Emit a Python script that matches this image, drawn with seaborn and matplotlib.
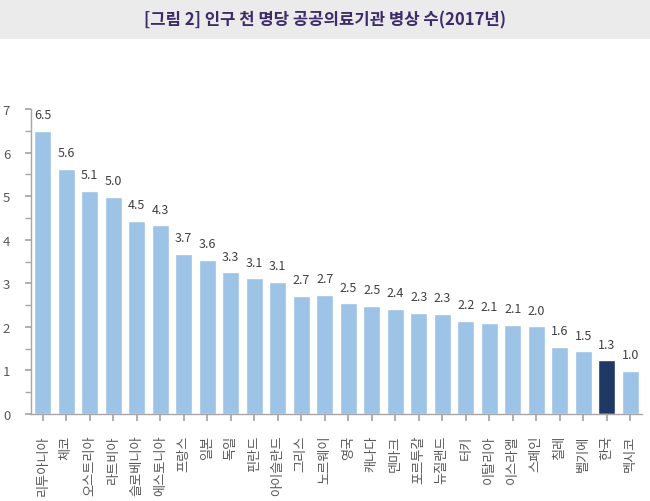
import matplotlib
matplotlib.use("Agg")
import matplotlib.pyplot as plt
import matplotlib.patches as mpatches
from matplotlib.ticker import MultipleLocator
import seaborn as sns
import pandas as pd

countries = ["리투아니아", "체코", "오스트리아", "라트비아", "슬로베니아", "에스토니아",
             "프랑스", "일본", "독일", "핀란드", "아이슬란드", "그리스", "노르웨이",
             "영국", "캐나다", "덴마크", "포르투갈", "뉴질랜드", "터키", "이탈리아",
             "이스라엘", "스페인", "칠레", "벨기에", "한국", "멕시코"]
values = [6.50, 5.62, 5.12, 4.98, 4.43, 4.33, 3.68, 3.53, 3.25, 3.11, 3.03, 2.71, 2.73,
          2.54, 2.48, 2.42, 2.32, 2.30, 2.13, 2.10, 2.04, 2.01, 1.54, 1.44, 1.23, 0.99]
value_labels = ["6.5", "5.6", "5.1", "5.0", "4.5", "4.3", "3.7", "3.6", "3.3", "3.1", "3.1",
                "2.7", "2.7", "2.5", "2.5", "2.4", "2.3", "2.3", "2.2", "2.1", "2.1", "2.0",
                "1.6", "1.5", "1.3", "1.0"]
highlight = "한국"
title = "[그림 2] 인구 천 명당 공공의료기관 병상 수(2017년)"

sns.set_theme(style="white")
plt.rcParams['font.family'] = ['Noto Sans CJK KR', 'DejaVu Sans']

df = pd.DataFrame({"country": countries, "value": values})
light = "#9dc3e6"
dark = "#1f3864"
palette = {c: (dark if c == highlight else light) for c in countries}

fig = plt.figure(figsize=(6.5, 5.02), dpi=100)
fig.patch.set_facecolor("white")
# title band
fig.patches.append(mpatches.Rectangle((0, 1 - 40 / 502), 1, 40 / 502,
                                      transform=fig.transFigure, facecolor="#ebebeb",
                                      edgecolor="none", zorder=0))
fig.text(0.5, 1 - 20 / 502, title, ha="center", va="center", fontsize=12,
         fontweight="bold", color="#3d2b6b")

ax = fig.add_axes([31 / 650, 87 / 502, (642 - 31) / 650, (415 - 110) / 502])
sns.barplot(data=df, x="country", y="value", hue="country", palette=palette,
            legend=False, width=0.72, ax=ax, saturation=1)

ax.set_xlim(-0.5, len(countries) - 0.5)
ax.set_ylim(0, 7)
ax.set_xlabel("")
ax.set_ylabel("")
ax.yaxis.set_major_locator(MultipleLocator(1))
ax.yaxis.set_minor_locator(MultipleLocator(0.5))

for s in ["top", "right"]:
    ax.spines[s].set_visible(False)
ax.spines["left"].set_color("#a6a6a6")
ax.spines["bottom"].set_color("#a6a6a6")
ax.spines["left"].set_linewidth(1.0)
ax.spines["bottom"].set_linewidth(1.0)

ax.tick_params(axis="y", which="both", left=True, direction="out", length=4,
               color="#a6a6a6", labelsize=9.5, labelcolor="#595959", pad=11)
ax.tick_params(axis="x", which="major", bottom=True, direction="out", length=5,
               color="#a6a6a6", labelsize=9.5, labelcolor="#595959", pad=10,
               labelrotation=90)
for lbl in ax.get_xticklabels():
    lbl.set_va("top")
    lbl.set_ha("center")

for i, (v, t) in enumerate(zip(values, value_labels)):
    ax.annotate(t, (i, v), xytext=(0, 7), textcoords="offset points",
                ha="center", va="bottom", fontsize=9, color="#404040")

fig.savefig("out.png", dpi=100)
